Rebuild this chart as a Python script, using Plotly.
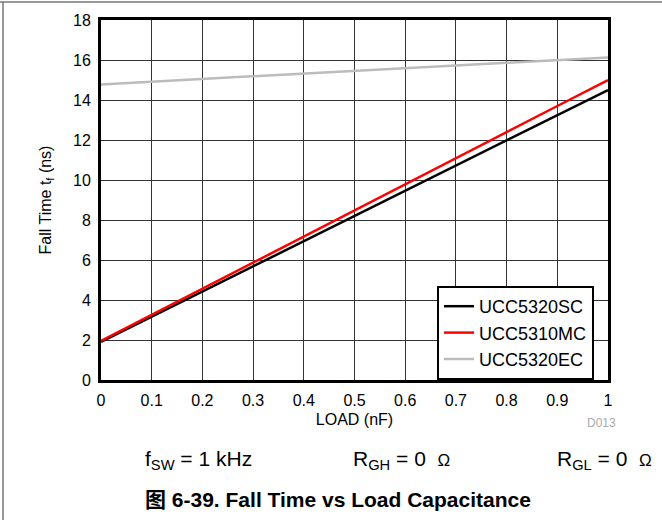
import plotly.graph_objects as go

load_nf = [0.0, 0.1, 0.2, 0.3, 0.4, 0.5, 0.6, 0.7, 0.8, 0.9, 1.0]
ucc5320sc = [1.9, 3.16, 4.42, 5.68, 6.94, 8.2, 9.46, 10.72, 11.98, 13.24, 14.5]
ucc5310mc = [1.95, 3.26, 4.56, 5.87, 7.17, 8.48, 9.78, 11.09, 12.39, 13.7, 15.0]
ucc5320ec = [14.78, 14.92, 15.05, 15.19, 15.32, 15.46, 15.59, 15.73, 15.86, 16.0, 16.13]

x_ticks = [0, 0.1, 0.2, 0.3, 0.4, 0.5, 0.6, 0.7, 0.8, 0.9, 1]
x_tick_labels = ["0", "0.1", "0.2", "0.3", "0.4", "0.5", "0.6", "0.7", "0.8", "0.9", "1"]
y_ticks = [0, 2, 4, 6, 8, 10, 12, 14, 16, 18]

fig = go.Figure()
fig.add_trace(go.Scatter(x=load_nf, y=ucc5320sc, mode="lines", name="UCC5320SC",
                         line=dict(color="black", width=2.5)))
fig.add_trace(go.Scatter(x=load_nf, y=ucc5310mc, mode="lines", name="UCC5310MC",
                         line=dict(color="#ff0000", width=2.5)))
fig.add_trace(go.Scatter(x=load_nf, y=ucc5320ec, mode="lines", name="UCC5320EC",
                         line=dict(color="#bcbcbc", width=2.5)))

font_main = "Liberation Sans, Arial, sans-serif"

L, R, T, B = 101, 54, 20, 140
PW, PH = 662 - L - R, 520 - T - B

def px_x(px):
    return (px - L) / PW

def px_y(py):
    return (520 - B - py) / PH

fig.update_layout(
    width=662, height=520,
    margin=dict(l=L, r=R, t=T, b=B),
    paper_bgcolor="white", plot_bgcolor="white",
    font=dict(family=font_main, size=16, color="black"),
    showlegend=True,
    legend=dict(x=px_x(437), xanchor="left", y=0, yanchor="bottom",
                bgcolor="white", bordercolor="black", borderwidth=2,
                font=dict(size=18, family=font_main), tracegroupgap=0,
                entrywidth=128, entrywidthmode="pixels"),
    xaxis=dict(range=[0, 1], tickvals=x_ticks, ticktext=x_tick_labels,
               showgrid=True, gridcolor="#333333", gridwidth=1,
               showline=True, linecolor="black", linewidth=3, mirror=True,
               ticks="", zeroline=False, automargin=False,
               tickfont=dict(size=16), ticklabelstandoff=4,
               title=dict(text="LOAD (nF)", standoff=6, font=dict(size=16))),
    yaxis=dict(range=[0, 18], tickvals=y_ticks,
               showgrid=True, gridcolor="#333333", gridwidth=1,
               showline=True, linecolor="black", linewidth=3, mirror=True,
               ticks="", zeroline=False, automargin=False,
               tickfont=dict(size=16), ticklabelstandoff=4,
               title=dict(text="Fall Time t<sub>f</sub> (ns)", standoff=18, font=dict(size=16))),
)

# figure frame (only top and left edges are visible)
fig.add_shape(type="line", xref="paper", yref="paper",
              x0=px_x(0), x1=px_x(700), y0=px_y(2), y1=px_y(2),
              line=dict(color="#777777", width=1.5))
fig.add_shape(type="line", xref="paper", yref="paper",
              x0=px_x(3), x1=px_x(3), y0=px_y(560), y1=px_y(2),
              line=dict(color="#777777", width=1.5))

fig.add_annotation(text="D013", xref="paper", yref="paper", x=px_x(618), y=px_y(432),
                   showarrow=False, font=dict(size=12, color="#aaaaaa"))
omega = "<span style='font-size:17px'>Ω</span>"
fig.add_annotation(text="f<sub>SW</sub> = 1 kHz", xref="paper", yref="paper",
                   x=px_x(143), y=px_y(475), xanchor="left", showarrow=False,
                   font=dict(size=21))
fig.add_annotation(text="R<sub>GH</sub> = 0  " + omega, xref="paper", yref="paper",
                   x=px_x(351), y=px_y(475), xanchor="left", showarrow=False,
                   font=dict(size=21))
fig.add_annotation(text="R<sub>GL</sub> = 0  " + omega, xref="paper", yref="paper",
                   x=px_x(555), y=px_y(475), xanchor="left", showarrow=False,
                   font=dict(size=21))
fig.add_annotation(text="<b>图 6-39. Fall Time vs Load Capacitance</b>", xref="paper", yref="paper",
                   x=px_x(143), y=px_y(513), xanchor="left", showarrow=False,
                   font=dict(size=21, family="Liberation Sans, Noto Sans CJK SC, sans-serif"))

fig.write_html("out.html", config={"displayModeBar": False},
               post_script="document.body.style.margin='0';")
